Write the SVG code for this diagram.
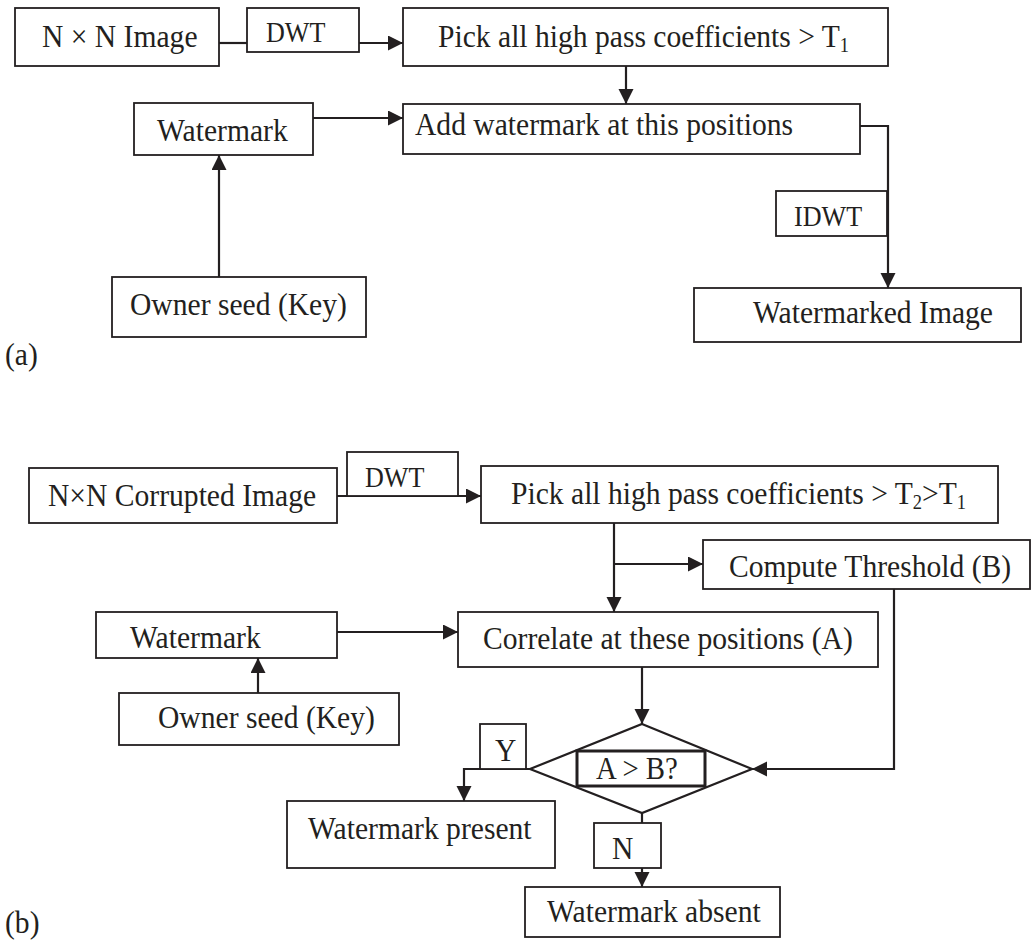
<svg xmlns="http://www.w3.org/2000/svg" width="1032" height="946" viewBox="0 0 1032 946">
<defs>
<style>
.b{fill:#fff;stroke:#231f20;stroke-width:1.8}
.t{font-family:"Liberation Serif","Times New Roman",serif;font-size:32px;fill:#231f20}
.s{font-family:"Liberation Serif","Times New Roman",serif;font-size:29px;fill:#231f20}
.c{fill:none;stroke:#231f20;stroke-width:2.2}
</style>
<marker id="ah" markerUnits="userSpaceOnUse" markerWidth="16" markerHeight="16" refX="15" refY="7.5" orient="auto">
<path d="M0,0 L15,7.5 L0,15 z" fill="#231f20"/>
</marker>
</defs>
<rect width="1032" height="946" fill="#fff"/>

<g id="connectors">
<path class="c" d="M219,43 H247"/>
<path class="c" d="M359,43 H403" marker-end="url(#ah)"/>
<path class="c" d="M626,66 V104" marker-end="url(#ah)"/>
<path class="c" d="M313,118 H403" marker-end="url(#ah)"/>
<path class="c" d="M219,277 V155" marker-end="url(#ah)"/>
<path class="c" d="M860,126 H888 V288" marker-end="url(#ah)"/>
<path class="c" d="M337,496 H481" marker-end="url(#ah)"/>
<path class="c" d="M614,523 V612" marker-end="url(#ah)"/>
<path class="c" d="M614,564 H703" marker-end="url(#ah)"/>
<path class="c" d="M337,632 H458" marker-end="url(#ah)"/>
<path class="c" d="M258,705 V658" marker-end="url(#ah)"/>
<path class="c" d="M642,667 V724" marker-end="url(#ah)"/>
<path class="c" d="M894,589 V769 H752" marker-end="url(#ah)"/>
<path class="c" d="M530,769 H464 V801" marker-end="url(#ah)"/>
<path class="c" d="M642,813 V823"/>
<path class="c" d="M642,868 V887" marker-end="url(#ah)"/>
</g>

<g id="a-image">
<rect class="b" x="15" y="8" width="204" height="58"/>
<text class="t" transform="translate(42,47) scale(0.925,1)">N × N Image</text>
</g>
<g id="a-dwt">
<rect class="b" x="247" y="8" width="112" height="44"/>
<text class="s" transform="translate(266,42) scale(0.9,1)">DWT</text>
</g>
<g id="a-pick">
<rect class="b" x="403" y="8" width="485" height="58"/>
<text class="t" transform="translate(438,47) scale(0.925,1)">Pick all high pass coefficients &gt; T<tspan font-size="20" dy="5">1</tspan></text>
</g>
<g id="a-watermark">
<rect class="b" x="134" y="103" width="179" height="52"/>
<text class="t" transform="translate(157,141) scale(0.925,1)">Watermark</text>
</g>
<g id="a-add">
<rect class="b" x="403" y="104" width="457" height="50"/>
<text class="t" transform="translate(415,135) scale(0.925,1)">Add watermark at this positions</text>
</g>
<g id="a-owner">
<rect class="b" x="112" y="277" width="254" height="60"/>
<text class="t" transform="translate(130,315) scale(0.925,1)">Owner seed (Key)</text>
</g>
<g id="a-idwt">
<rect class="b" x="776" y="191" width="111" height="45"/>
<text class="s" transform="translate(794,226) scale(0.9,1)">IDWT</text>
</g>
<g id="a-watermarked">
<rect class="b" x="694" y="288" width="327" height="54"/>
<text class="t" transform="translate(753,323) scale(0.925,1)">Watermarked Image</text>
</g>
<text class="t" transform="translate(5,365) scale(0.925,1)">(a)</text>

<g id="b-image">
<rect class="b" x="29" y="468" width="308" height="55"/>
<text class="t" transform="translate(48,506) scale(0.925,1)">N×N Corrupted Image</text>
</g>
<g id="b-dwt">
<rect class="b" x="347" y="452" width="111" height="44"/>
<text class="s" transform="translate(365,487) scale(0.9,1)">DWT</text>
</g>
<g id="b-pick">
<rect class="b" x="481" y="466" width="517" height="57"/>
<text class="t" transform="translate(511,504) scale(0.925,1)">Pick all high pass coefficients &gt; T<tspan font-size="20" dy="5">2</tspan><tspan dy="-5">&gt;T</tspan><tspan font-size="20" dy="5">1</tspan></text>
</g>
<g id="b-threshold">
<rect class="b" x="703" y="540" width="327" height="49"/>
<text class="t" transform="translate(729,577) scale(0.925,1)">Compute Threshold (B)</text>
</g>
<g id="b-watermark">
<rect class="b" x="96" y="612" width="241" height="46"/>
<text class="t" transform="translate(130,648) scale(0.925,1)">Watermark</text>
</g>
<g id="b-correlate">
<rect class="b" x="458" y="612" width="420" height="55"/>
<text class="t" transform="translate(483,649) scale(0.925,1)">Correlate at these positions (A)</text>
</g>
<g id="b-owner">
<rect class="b" x="119" y="693" width="280" height="52"/>
<text class="t" transform="translate(158,728) scale(0.925,1)">Owner seed (Key)</text>
</g>
<g id="b-decision">
<path class="b" d="M642,724 L752,769 L642,813 L530,769 Z" style="stroke-width:2.2"/>
<rect x="577" y="751" width="128" height="35" fill="#fff" stroke="#231f20" stroke-width="3"/>
<text class="t" transform="translate(596,779) scale(0.9,1)">A &gt; B?</text>
</g>
<g id="b-y">
<rect class="b" x="480" y="724" width="46" height="45"/>
<text class="t" transform="translate(495,761) scale(0.925,1)">Y</text>
</g>
<g id="b-present">
<rect class="b" x="287" y="801" width="268" height="67"/>
<text class="t" transform="translate(308,839) scale(0.925,1)">Watermark present</text>
</g>
<g id="b-n">
<rect class="b" x="594" y="823" width="67" height="45"/>
<text class="t" transform="translate(612,859) scale(0.925,1)">N</text>
</g>
<g id="b-absent">
<rect class="b" x="525" y="887" width="255" height="50"/>
<text class="t" transform="translate(547,922) scale(0.925,1)">Watermark absent</text>
</g>
<text class="t" transform="translate(5,933) scale(0.925,1)">(b)</text>
</svg>
